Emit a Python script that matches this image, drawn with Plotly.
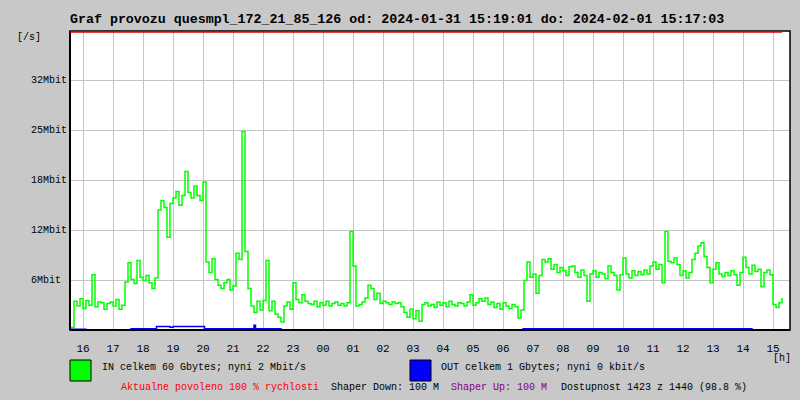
import plotly.graph_objects as go

# ---- data (Mbit/s), sampled every 6 minutes starting 15:36 ----
start_hour = 15.6
step_hour = 0.1
in_mbit = [
    0.3, 3.6, 3.0, 3.9, 2.7, 3.7, 3.1, 6.9, 2.9, 3.5,
    3.4, 2.6, 3.3, 3.5, 3.0, 3.8, 2.6, 3.1, 6.0, 8.4,
    6.3, 5.8, 8.7, 6.6, 6.2, 6.8, 5.9, 5.2, 6.5, 15.0,
    16.2, 15.3, 11.6, 15.8, 16.5, 17.3, 15.6, 16.8, 19.8, 17.2,
    16.5, 18.0, 16.8, 16.2, 18.5, 8.5, 7.2, 8.9, 6.3, 5.6,
    5.2, 5.9, 6.3, 5.0, 5.5, 9.6, 8.8, 24.8, 9.8, 5.2,
    3.0, 2.2, 3.6, 2.5, 3.7, 8.7, 2.4, 3.6, 2.0, 1.6,
    1.0, 3.0, 3.5, 2.6, 5.9, 3.8, 3.4, 4.4, 3.6, 3.3,
    3.2, 3.6, 2.9, 3.4, 3.1, 3.6, 3.0, 3.3, 3.5, 3.1,
    3.3, 3.0, 3.4, 12.3, 8.0, 3.0, 3.2, 3.5, 4.0, 5.6,
    5.2, 3.8, 4.6, 3.3, 3.6, 3.4, 3.2, 3.5, 3.3, 3.4,
    2.9, 2.2, 1.6, 2.6, 1.4, 2.4, 1.1, 3.2, 3.4, 3.0,
    3.2, 2.8, 3.5, 3.1, 3.4, 2.9, 3.6, 3.2, 3.0, 3.4,
    3.3, 3.0, 3.5, 4.4, 3.1, 3.4, 3.9, 3.6, 4.0, 3.2,
    3.5, 2.8, 3.3, 2.6, 3.4, 3.0, 2.7, 3.2, 2.9, 1.5,
    2.5, 6.2, 8.5, 6.6, 7.0, 4.6, 6.8, 8.8, 8.5, 8.9,
    7.6, 8.2, 7.2, 7.8, 7.4, 6.8, 7.9, 8.0, 7.2, 6.6,
    7.5, 6.8, 3.6, 7.0, 7.4, 6.6, 7.2, 7.0, 6.4, 8.0,
    7.2, 6.8, 5.0, 6.9, 9.0, 7.0, 6.5, 7.4, 6.8, 7.3,
    6.9, 7.5, 7.0, 8.0, 8.5, 7.6, 8.2, 5.9, 12.3, 8.6,
    8.4, 9.0, 8.2, 6.8, 7.4, 6.5, 7.2, 8.8, 9.6, 10.5,
    10.9, 9.2, 7.8, 5.9, 7.6, 8.4, 7.0, 6.7, 7.2, 6.8,
    7.4, 6.9, 5.6, 7.2, 9.1, 7.8, 7.0, 8.1, 7.3, 7.6,
    5.4, 7.2, 7.5, 6.9, 3.2, 2.8, 3.4, 4.0,
]
in_hours = [start_hour + step_hour * i for i in range(len(in_mbit))]

out_hours = [15.6, 16.1, 16.3, 17.6, 18.45, 18.9, 19.0, 20.05, 21.7, 21.75, 22.6, 30.67, 38.3, 39.55]
out_mbit = [0.1, 0.0, 0.0, 0.15, 0.45, 0.35, 0.45, 0.15, 0.6, 0.15, 0.0, 0.15, 0.0, 0.0]

hour_ticks = list(range(16, 40))
hour_labels = [f"{h % 24:02d}" for h in hour_ticks]
y_ticks = [6.25, 12.5, 18.75, 25.0, 31.25]
y_labels = ["6Mbit", "12Mbit", "18Mbit", "25Mbit", "32Mbit"]

title_text = "Graf provozu quesmpl_172_21_85_126 od: 2024-01-31 15:19:01 do: 2024-02-01 15:17:03"
in_label = "IN celkem 60 Gbytes; nyní 2 Mbit/s"
out_label = "OUT celkem 1 Gbytes; nyní 0 kbit/s"

# ---- layout geometry ----
W, H = 800, 400
L, R, T, B = 70, 10, 31, 70
PW, PH = W - L - R, H - T - B
X0 = 15.5667
X1 = X0 + 24.0
FONT = "Liberation Mono, DejaVu Sans Mono, monospace"


def px(x):
    return (x - L) / PW


def py(y):
    return (H - B - y) / PH


fig = go.Figure()
fig.add_trace(go.Scatter(x=in_hours, y=in_mbit, mode="lines", line=dict(color="#00ff00", width=1.5, shape="hv"),
                         hoverinfo="skip", showlegend=False))
fig.add_trace(go.Scatter(x=out_hours, y=out_mbit, mode="lines", line=dict(color="#0000ff", width=1.5, shape="hv"),
                         hoverinfo="skip", showlegend=False))

fig.update_layout(
    width=W, height=H,
    margin=dict(l=L, r=R, t=T, b=B),
    paper_bgcolor="#c8c8c8",
    plot_bgcolor="#ffffff",
    font=dict(family=FONT, size=11, color="#000000"),
    xaxis=dict(range=[X0, X1], tickvals=hour_ticks, ticktext=hour_labels, showgrid=True,
               gridcolor="#c4c4c4", gridwidth=1, zeroline=False, ticks="outside", ticklen=8,
               tickcolor="rgba(0,0,0,0)", tickfont=dict(family=FONT, size=11), fixedrange=True,
               showline=False),
    yaxis=dict(range=[0, 37.375], tickvals=y_ticks, showticklabels=False, showgrid=True,
               gridcolor="#c4c4c4", gridwidth=1, zeroline=False, ticks="", fixedrange=True, showline=False),
)

shapes = [
    dict(type="rect", xref="paper", yref="paper", x0=0, x1=1, y0=0, y1=1, line=dict(color="#000000", width=1.5)),
    dict(type="line", xref="paper", yref="paper", x0=0, x1=1, y0=0, y1=0, line=dict(color="#000000", width=2)),
    dict(type="line", xref="paper", yref="paper", x0=0, x1=0, y0=0, y1=1, line=dict(color="#000000", width=2)),
    dict(type="line", xref="x", yref="paper", x0=X0, x1=39.3, y0=0.997, y1=0.997, line=dict(color="#e00000", width=1.5)),
    dict(type="rect", xref="paper", yref="paper", x0=px(70), x1=px(91), y0=py(381), y1=py(360),
         fillcolor="#00ff00", line=dict(color="#000000", width=1)),
    dict(type="rect", xref="paper", yref="paper", x0=px(410), x1=px(431), y0=py(381), y1=py(360),
         fillcolor="#0000ff", line=dict(color="#000000", width=1)),
]
fig.update_layout(shapes=shapes)

ann = []


def text(x, y, s, size=10, color="#000000", bold=False, anchor="left"):
    ann.append(dict(xref="paper", yref="paper", x=px(x), y=py(y), text=f"<b>{s}</b>" if bold else s,
                    showarrow=False, xanchor=anchor, yanchor="middle",
                    font=dict(family=FONT, size=size, color=color)))


text(68, 19, title_text, size=13.3, bold=True)
text(15, 37, "[/s]", size=10)
for v, lab in zip(y_ticks, y_labels):
    ann.append(dict(xref="paper", yref="y", x=px(29), y=v, text=lab, showarrow=False, xanchor="left",
                    yanchor="middle", font=dict(family=FONT, size=10, color="#000000")))
text(771, 358, "[h]", size=10)
text(100, 367, in_label, size=10)
text(439, 367, out_label, size=10)
text(119, 387, "Aktualne povoleno 100 % rychlosti", size=10, color="#ff0000")
text(329, 387, "Shaper Down: 100 M", size=10)
text(449, 387, "Shaper Up: 100 M", size=10, color="#800080")
text(559, 387, "Dostupnost 1423 z 1440 (98.8 %)", size=10)
fig.update_layout(annotations=ann)

fig.write_html("out.html", config={"displayModeBar": False},
               post_script="document.body.style.margin='0';document.body.style.background='#c8c8c8';")
